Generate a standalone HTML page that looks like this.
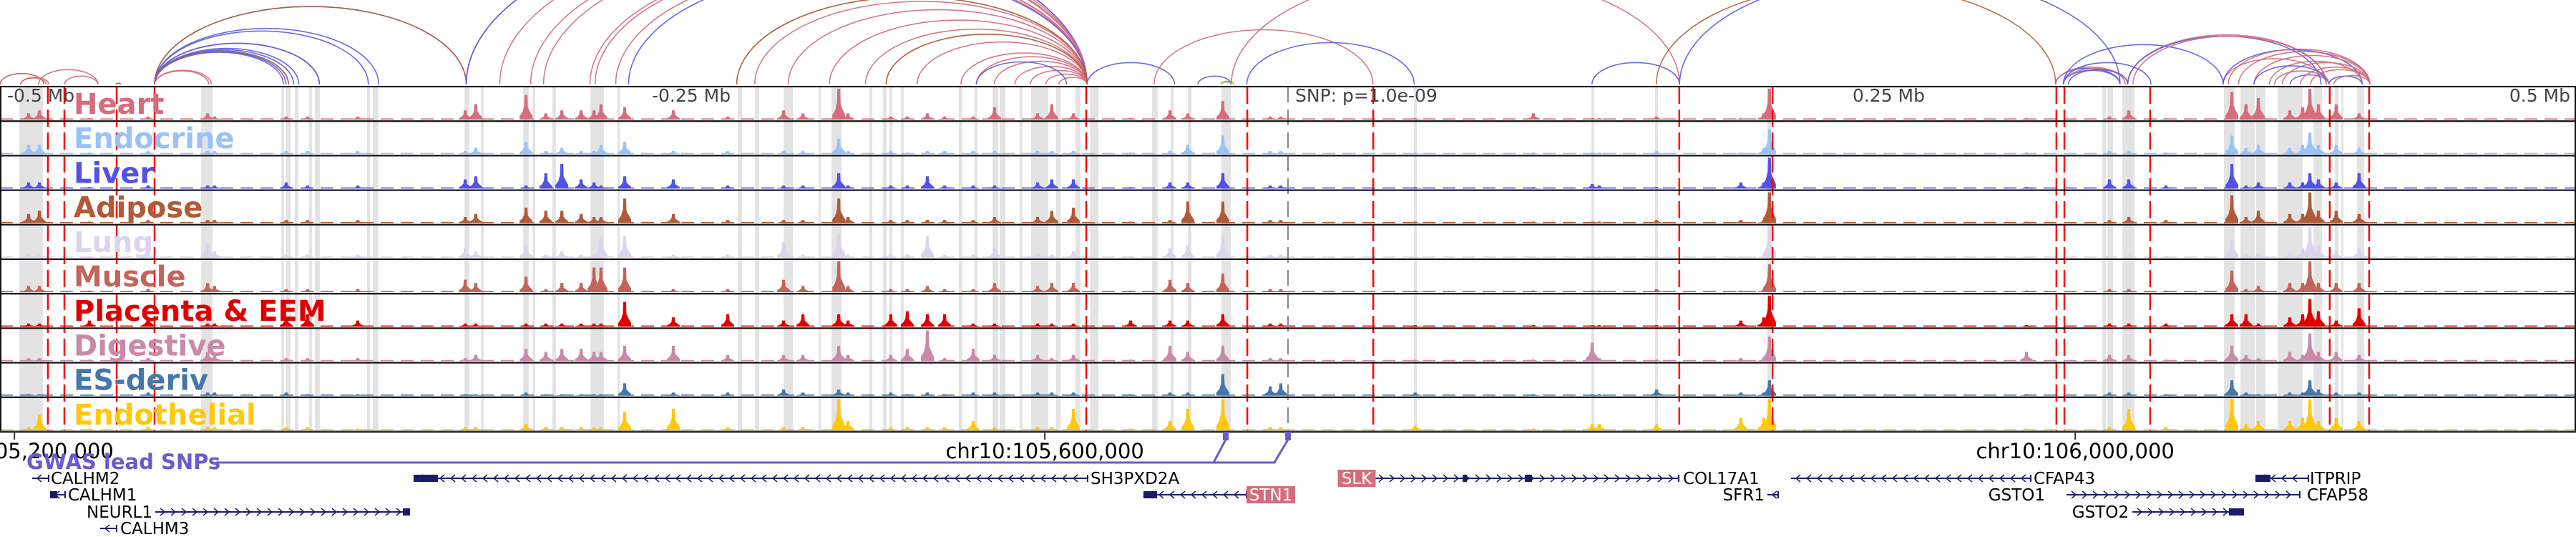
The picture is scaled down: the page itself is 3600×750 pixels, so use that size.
<!DOCTYPE html>
<html><head><meta charset="utf-8"><style>
html,body{margin:0;padding:0;background:#fff;width:3600px;height:750px;overflow:hidden}
svg{display:block;font-family:"DejaVu Sans","Liberation Sans",sans-serif}
</style></head><body>
<svg id="chart" width="3600" height="750" viewBox="0 0 3600 750" xmlns="http://www.w3.org/2000/svg"></svg>
<script>
// ---- data (positions in kb relative to lead SNP) ----
const trackNames = ["Heart","Endocrine","Liver","Adipose","Lung","Muscle","Placenta & EEM","Digestive","ES-deriv","Endothelial"];
const trackColors = ["#d66d7c","#99c2f9","#5252e6","#b05a37","#dcd4ec","#c4635a","#e00000","#c88aa8","#4577aa","#ffc80a"];
const peakKb = [-488.9,-484.7,-465.3,-442.5,-419.4,-416.7,-388.9,-380.6,-361.1,-319.4,-315.3,-295.8,-288.1,-281.9,-274.4,-269.4,-266.7,-257.5,-238.6,-217.5,-195.8,-188.3,-174.4,-170.8,-154.2,-147.8,-140,-133.3,-122.2,-113.9,-97.2,-91.7,-83.3,-61.1,-45.8,-38.9,-25.3,-6.9,-2.8,49.4,95.3,118.1,120.8,143.1,175.8,184.7,186.9,286.7,318.9,326.4,340.8,366.4,371.9,376.7,388.9,393.9,396.7,400,406.9,415.8];
const heart =      [2,3,0.5,1,2,1,1,1,1,3,5,8,2,3,3,3,5,4,3,1,3,2,10,2,1,1,2,1,1,4,2,5,2,0.5,3,2,6,1,1,0.5,2,0.5,0.5,1,0.5,2,10,0.5,1,3,0.5,9,5,7,3,4,10,5,5,2];
const endocrine =  [3,3,0.5,1,1,1,1,1,1,1,2,4,1,2,1,1,3,4,1,1,1,1,5,1,1,0.5,1,1,1,1,1,1,1,0.5,1,3,6,1,1,0.5,0.5,0.5,0.5,1,0.5,2,8,0.5,1,1,0.5,6,2,3,2,3,7,3,3,2];
const liver =      [2,2,0.5,1,1,1,2,1,1,3,4,1,5,8,3,2,1,4,3,1,1,1,5,1,1,1,4,1,1,1,2,3,3,0.5,2,2,5,1,1,0.5,0.5,1.5,1,0.5,2,2,10,0.5,3,3,1,8,1,2,2,2,5,3,2,5];
const adipose =    [3,4,0.5,1,1,1,1,1,1,2,3,5,4,4,3,2,2,8,3,1,1,1,8,2,1,1,1,1,1,2,2,4,5,0.5,1,7,7,1,1,0.5,0.5,0.5,0.5,1,1,1,10,0.5,1,2,1,9,2,4,3,3,10,4,4,3];
const lung =       [1,1,0.3,1,5,2,1,1,1,3,2,4,1,2,1,1,7,7,1,1,5,1,8,1,1,1,7,1,1,3,1,1,2,0.5,3,4,7,1,1,0.5,0.5,0.5,0.3,0.5,0.5,1,10,0.5,0.5,1,0.5,6,1,1,2,3,10,4,2,3];
const muscle =     [2,2,0.5,1,3,2,1,1,1,4,3,5,1,3,3,8,8,8,1,1,4,2,10,2,1,1,2,1,1,3,2,3,3,0.5,4,3,6,1,1,0.5,0.5,0.5,0.5,1,0.5,1,9,0.5,1,1,0.5,7,1,2,3,3,10,3,3,3];
const placenta =   [1,1,2,3,1,1,3,4,2,1,1,1,1,1,1,1,1,8,3,4,2,4,4,2,4,5,4,4,1,1,1,1,1,2,2,2,4,1,1,0.5,0.5,0.5,0.5,0.5,2,3,10,0.5,1,1,1,4,4,1,3,4,9,5,2,6];
const digestive =  [1,1,0.5,1,3,2,1,1,1,1,2,4,3,4,4,3,3,5,5,2,2,2,5,2,2,4,10,1,4,2,2,1,2,0.5,5,3,5,1,1,0.5,0.5,6,1,0.5,1,1,8,3,2,2,0.5,5,2,1,3,2,9,3,3,2];
const esDeriv =    [0.5,0.5,0.3,1,1,1,1,0.5,0.5,0.5,0.5,1,0.5,0.5,0.5,0.5,0.5,4,1,1,2,1,2,1,1,0.5,1,0.5,1,1,1,1,1,0.5,1,1,7,3,4,1,0.5,0.5,0.5,2,1,1,5,0.5,1,1,0.5,5,1,0.5,1,1,5,2,1,1];
const endothelial =[1,5,0.5,1,1,1,1,1,0.5,1,1,2,1,1,1,1,1,6,7,1,1,1,10,3,1,1,1,1,3,1,1,1,7,0.5,3,7,10,1,1,1.5,0.5,2,2,2,4,4,10,0.5,1,7,1,10,2,3,3,4,10,3,4,3];
const seriesByTrack = [heart,endocrine,liver,adipose,lung,muscle,placenta,digestive,esDeriv,endothelial];
const redLinesKb = [-481.4,-475,-454.7,-440,-78.3,-15.8,33.1,151.9,188.1,298.3,301.4,334.7,404.4,419.7];
const bandStartKb = [-492.5,-421.9,-390.8,-388.9,-385.6,-380,-377.8,-357.5,-355.3,-319.7,-313.3,-296.9,-293.3,-285.6,-270.8,-260.3,-213.6,-206.9,-195.8,-182.2,-177.2,-162.5,-157.2,-154.7,-150.3,-127.8,-121.7,-114.7,-111.9,-104.2,-99.7,-90,-82.5,-76.9,-52.8,-45.6,-38.9,-25.8,48.9,117.8,142.5,186.1,316.1,318.1,323.9,363.3,369.7,375.8,384.2,398.1,406.4,408.9,415];
const bandEndKb =   [-483.3,-417.5,-389.7,-387.2,-384.2,-378.9,-375.8,-356.4,-353.1,-317.8,-312.2,-294.7,-292.2,-284.2,-265.6,-259.4,-211.9,-205.3,-192.2,-181.4,-173.3,-161.4,-155.8,-153.6,-149.2,-126.4,-120.6,-112.5,-109.7,-103.1,-93.1,-88.3,-80.6,-73.6,-50.6,-44.4,-37.5,-22.2,50,118.9,143.6,187.5,317.5,320.3,328.6,367.5,375.3,379.4,393.9,401.4,407.8,409.7,417.8];
const arcStartKb = [-500,-492,-492,-485,-475,-455,-440,-440,-440,-440,-440,-440,-440,-440,-440,-440,-440,-440,-440,-440,-319,-319,-306,-294,-289,-271,-269,-261,-256,-214,-207,-194,-178,-164,-156,-144,-127,-121,-114,-106,-100,-94,-89,-121,-214,-156,-78,-52,-35,-26,-26,-16,-22,118,143,152,298,298,301,301,301,303,301,326,326,328,363,363,365,369,375,381,386,389,393,397,404,406,375,383];
const arcEndKb =   [-483,-481,-482,-462,-462,-453,-418,-419,-390,-389,-388,-386,-384,-388,-376,-376,-357,-353,-319,-319,-78,-78,-78,-78,-78,-78,-78,-78,-78,-78,-78,-78,-78,-78,-78,-78,-78,-78,-78,-78,-78,-78,-78,-86,-78,-78,-44,33,-22,-21,-22,49,152,152,298,323,323,325,323,326,335,326,363,403,401,403,403,417,420,420,420,417,420,404,420,420,417,420,404,404];
const arcColor =   ["br","pk","pk","pk","pk","br","pk","pk","bl","bl","bl","bl","bl","br","br","bl","bl","bl","bl","br","pk","bl","pk","pk","pk","pk","pk","pk","bl","pk","pk","pk","pk","pk","pk","pk","pk","pk","pk","pk","pk","pk","pk","bl","br","br","bl","pk","bl","or","gr","bl","pk","bl","br","bl","bl","pk","bl","pk","bl","bl","bl","pk","bl","pk","pk","bl","pk","pk","pk","pk","pk","bl","pk","pk","bl","pk","bl","pk"];
const axisTickKb = [-494.4,-94.4,305.6];
const axisTickLabels = ["chr10:105,200,000","chr10:105,600,000","chr10:106,000,000"];

// ---- scales ----
const W = 3600, X0 = 0, PXKB = 3.6;
const xs = kb => X0 + (kb + 500) * PXKB;
const TRACK_TOP = 121, TRACK_H = 48.2, NT = 10, ARC_BASE = 118;
const trackTop = i => TRACK_TOP + i * TRACK_H;
const ys = (i, v) => trackTop(i) + 46 - v * 4.3;
const colMap = {pk:"#d46a7a", bl:"#5a5ae8", br:"#b0643c", or:"#ff7f0e", gr:"#66bb55"};

const NS = "http://www.w3.org/2000/svg";
const svg = document.getElementById("chart");
function mk(tag, attrs, parent) {
  const e = document.createElementNS(NS, tag);
  for (const k in attrs) e.setAttribute(k, attrs[k]);
  (parent || svg).appendChild(e);
  return e;
}

// arcs
const arcG = mk("g", {});


for (let i = 0; i < arcStartKb.length; i++) {
  const a = xs(arcStartKb[i]), b = xs(arcEndKb[i]);
  const rx = (b - a) / 2, ry = 0.25 * (b - a);
  const p = mk("path", {d: `M${a},${ARC_BASE} A${rx},${ry} 0 0 1 ${b},${ARC_BASE}`, fill: "none", stroke: colMap[arcColor[i]], "stroke-width": 1.6, opacity: 0.9}, arcG);
  
  
}

// gray bands
const bandG = mk("g", {});


for (let i = 0; i < bandStartKb.length; i++) {
  const a = xs(bandStartKb[i]), b = xs(bandEndKb[i]);
  const r = mk("rect", {x: a, y: TRACK_TOP, width: Math.max(3, b - a), height: TRACK_H * NT, fill: "#e3e3e3"}, bandG);
  
  
}

// signal tracks
for (let t = 0; t < NT; t++) {
  const g = mk("g", {});
  
  
  const base = ys(t, 0);
  const bl = mk("line", {x1: 0, x2: W, y1: base - 0.8, y2: base - 0.8, stroke: trackColors[t], "stroke-width": 1.6, "stroke-dasharray": "18 10"}, g);
  
  
  const vals = seriesByTrack[t];
  for (let i = 0; i < peakKb.length; i++) {
    const x = xs(peakKb[i]), top = ys(t, vals[i]), h = base - top;
    const d = `M${x-9},${base} L${x-9},${base-h*0.15} L${x-5},${base-h*0.3} L${x-2.5},${base-h*0.55} L${x-2},${top} L${x+2},${top} L${x+2.5},${base-h*0.5} L${x+5},${base-h*0.35} L${x+9},${base-h*0.15} L${x+9},${base} Z`;
    const p = mk("path", {d, fill: trackColors[t]}, g);
    
    
  }
}

// red dashed lines
for (let i = 0; i < redLinesKb.length; i++) {
  const x = xs(redLinesKb[i]);
  const l = mk("line", {x1: x, x2: x, y1: TRACK_TOP, y2: trackTop(NT), stroke: "#ff0000", "stroke-width": 2.5, "stroke-dasharray": "24 8"});
  
  
}
// SNP line
const snp = mk("line", {x1: xs(0), x2: xs(0), y1: TRACK_TOP, y2: trackTop(NT), stroke: "#888", "stroke-width": 2, "stroke-dasharray": "22 10"});



// track frames and labels
for (let t = 0; t < NT; t++) {
  const r = mk("rect", {x: 1, y: trackTop(t), width: W - 2, height: TRACK_H, fill: "none", stroke: "#111", "stroke-width": 2});
  
  
  const tx = mk("text", {x: 103, y: trackTop(t) + 38, fill: trackColors[t], "font-size": 40, "font-weight": "bold"});
  tx.textContent = trackNames[t];
  
  
}

// distance labels
const dl = [["-0.5 Mb", 10, "start"], ["-0.25 Mb", 911, "start"], ["SNP: p=1.0e-09", 1810, "start"], ["0.25 Mb", 2690, "end"], ["0.5 Mb", 3592, "end"]];
for (const d of dl) {
  const tx = mk("text", {x: d[1], y: 142, fill: "#444", "font-size": 25, "text-anchor": d[2]});
  tx.textContent = d[0];
  
  
}

// axis
const ax = mk("line", {x1: 0, x2: W, y1: trackTop(NT), y2: trackTop(NT), stroke: "#333", "stroke-width": 3});


for (let i = 0; i < axisTickKb.length; i++) {
  const x = xs(axisTickKb[i]);
  const tk = mk("line", {x1: x, x2: x, y1: trackTop(NT), y2: trackTop(NT) + 11, stroke: "#333", "stroke-width": 2});
  
  
  const tl = mk("text", {x, y: 640, "font-size": 29, "text-anchor": "middle", fill: "#000"});
  tl.textContent = axisTickLabels[i];
  
  
}

// GWAS lead SNPs
const gw = mk("text", {x: 37, y: 655, "font-size": 29, "font-weight": "bold", fill: "#6a5acd"});
gw.textContent = "GWAS lead SNPs";


const gp = mk("path", {d: "M302,646 L1781,646 L1800,614 M1696,646 L1713,614", fill: "none", stroke: "#6a5acd", "stroke-width": 3});


for (const x of [1713, 1800]) {
  const m = mk("rect", {x: x - 4, y: 603, width: 8, height: 12, fill: "#6a5acd"});
  
  
}

// genes
const genes = [
  {n:"CALHM2", a:45, b:68, y:668, s:-1, lx:71, la:"start"},
  {n:"SH3PXD2A", a:578, b:1520, y:668, s:-1, lx:1524, la:"start", box:[578,612]},
  {n:"SLK", a:1920, b:2346, y:668, s:1, lx:1896, la:"middle", hl:true, box:[2044,2050,2131,2141]},
  {n:"COL17A1", a:2350, b:2350, y:668, s:0, lx:2352, la:"start"},
  {n:"CFAP43", a:2503, b:2838, y:668, s:-1, lx:2842, la:"start"},
  {n:"ITPRIP", a:3152, b:3226, y:668, s:-1, lx:3228, la:"start", box:[3152,3173]},
  {n:"CALHM1", a:70, b:91, y:691, s:-1, lx:95, la:"start", box:[70,80]},
  {n:"STN1", a:1598, b:1742, y:691, s:-1, lx:1776, la:"middle", hl:true, box:[1598,1617]},
  {n:"SFR1", a:2470, b:2485, y:691, s:-1, lx:2466, la:"end"},
  {n:"GSTO1", a:2862, b:2862, y:691, s:0, lx:2858, la:"end"},
  {n:"CFAP58", a:2888, b:3214, y:691, s:1, lx:3224, la:"start"},
  {n:"NEURL1", a:217, b:572, y:715, s:1, lx:213, la:"end", box:[563,572]},
  {n:"GSTO2", a:2980, b:3135, y:715, s:1, lx:2975, la:"end", box:[3115,3135]},
  {n:"CALHM3", a:140, b:163, y:738, s:-1, lx:168, la:"start"}
];
for (const g of genes) {
  const gg = mk("g", {});
  
  
  if (g.b > g.a) {
    mk("line", {x1: g.a, x2: g.b, y1: g.y, y2: g.y, stroke: "#1b1b6e", "stroke-width": 2}, gg);
    for (let x = g.a + 10; x < g.b - 4; x += 15) {
      const d = g.s > 0 ? `M${x-3},${g.y-5} L${x+3},${g.y} L${x-3},${g.y+5}` : `M${x+3},${g.y-5} L${x-3},${g.y} L${x+3},${g.y+5}`;
      mk("path", {d, fill: "none", stroke: "#1b1b6e", "stroke-width": 1.5}, gg);
    }
    mk("line", {x1: g.b, x2: g.b, y1: g.y - 5, y2: g.y + 5, stroke: "#1b1b6e", "stroke-width": 2}, gg);
    if (g.box) for (let k = 0; k < g.box.length; k += 2)
      mk("rect", {x: g.box[k], y: g.y - 5, width: g.box[k+1] - g.box[k], height: 10, fill: "#1b1b6e"}, gg);
  }
  if (g.hl) {
    const w = g.n.length * 15 + 8;
    mk("rect", {x: g.lx - w / 2, y: g.y - 12, width: w, height: 24, fill: "#d66d7c"}, gg);
  }
  const t = mk("text", {x: g.lx, y: g.y + 8, "font-size": 23, "text-anchor": g.la, fill: g.hl ? "#fff" : "#000"}, gg);
  t.textContent = g.n;
  
  
}
</script>
</body></html>
